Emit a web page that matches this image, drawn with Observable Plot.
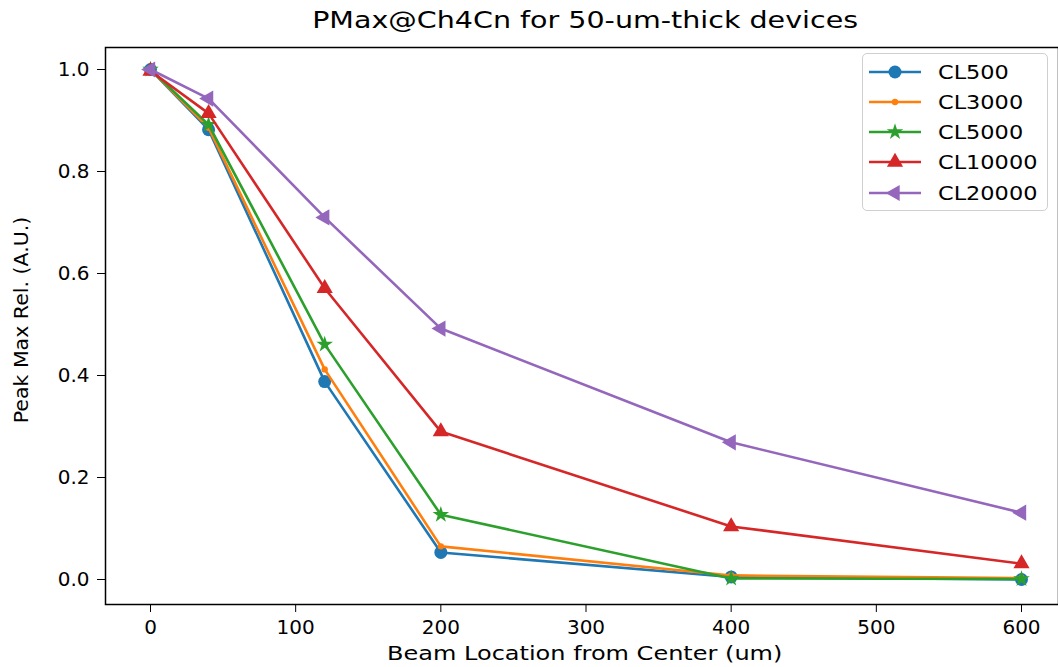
<!DOCTYPE html>
<html>
<head>
<meta charset="utf-8">
<script src="https://cdn.jsdelivr.net/npm/d3@7"></script>
<script src="https://cdn.jsdelivr.net/npm/@observablehq/plot@0.6"></script>
<style>
  html, body { margin: 0; padding: 0; background: #fff; }
  #wrap { position: relative; width: 1058px; height: 667px; font-family: "DejaVu Sans", sans-serif; color: #000; overflow: hidden; }
  #title { position: absolute; left: 0; width: 1170px; top: 7px; text-align: center; font-size: 23px; }
  #title span, #xlabel span { display: inline-block; transform-origin: center; }
  #title span { transform: scaleX(1.24); }
  #xlabel { position: absolute; left: 0; width: 1170px; top: 641px; text-align: center; font-size: 20px; }
  #xlabel span { transform: scaleX(1.2); }
  #ylabel { position: absolute; left: 21px; top: 320px; font-size: 19px; transform: translate(-50%, -50%) rotate(-90deg) scaleX(1.08); white-space: nowrap; }
  #legend { position: absolute; left: 862px; top: 53px; width: 186px; height: 158px; border: 1px solid #cfcfcf; border-radius: 5px; background: rgba(255,255,255,0.8); box-sizing: border-box; }
  .item { position: absolute; left: 0; height: 30px; width: 186px; }
  .item svg { position: absolute; left: 5px; top: 0; }
  .item span { position: absolute; left: 75px; top: 3px; font-size: 20px; transform-origin: left center; transform: scaleX(1.12); }
</style>
</head>
<body>
<div id="wrap">
  <div id="chart"></div>
  <div id="title"><span>PMax@Ch4Cn for 50-um-thick devices</span></div>
  <div id="xlabel"><span>Beam Location from Center (um)</span></div>
  <div id="ylabel">Peak Max Rel. (A.U.)</div>
  <div id="legend"></div>
</div>
<script>
const xs = [0, 40, 120, 200, 400, 600];
const series = ["CL500", "CL3000", "CL5000", "CL10000", "CL20000"];
const cl500   = [1.000, 0.882, 0.388, 0.053, 0.005, 0.000];
const cl3000  = [1.000, 0.886, 0.412, 0.065, 0.008, 0.003];
const cl5000  = [1.000, 0.892, 0.461, 0.127, 0.002, 0.001];
const cl10000 = [0.997, 0.914, 0.571, 0.290, 0.104, 0.031];
const cl20000 = [1.000, 0.943, 0.710, 0.492, 0.269, 0.131];
const colors  = ["#1f77b4", "#ff7f0e", "#2ca02c", "#d62728", "#9467bd"];
const symbols = ["circle", "circle", "star", "triangle", "triangle"];
const radii   = [6.5, 3.2, 5.2, 6, 6];
const rotations = [0, 0, 0, 0, -90];
const xTicks = [0, 100, 200, 300, 400, 500, 600];
const yTicks = [0, 0.2, 0.4, 0.6, 0.8, 1.0];

const values = [cl500, cl3000, cl5000, cl10000, cl20000];
const rows = [];
series.forEach((s, i) => xs.forEach((x, j) => rows.push({series: s, x, y: values[i][j], idx: i})));

const marks = [];
series.forEach((s, i) => {
  const d = rows.filter(r => r.series === s);
  marks.push(Plot.line(d, {x: "x", y: "y", stroke: colors[i], strokeWidth: 2.6}));
  marks.push(Plot.dot(d, {x: "x", y: "y", fill: colors[i], stroke: "none", symbol: () => symbols[i], r: radii[i], rotate: rotations[i]}));
});

const chart = Plot.plot({
  width: 1058,
  height: 667,
  marginLeft: 105,
  marginRight: 0,
  marginTop: 47,
  marginBottom: 63,
  style: {fontFamily: "DejaVu Sans", color: "#000", background: "white", overflow: "visible"},
  x: {domain: [0, 600], range: [150, 1021]},
  y: {domain: [0, 1], range: [579, 69]},
  symbol: {type: "identity"},
  marks: [
    Plot.axisX({ticks: xTicks, tickSize: 8, tickPadding: 7, fontSize: 20, label: null, tickFormat: d3.format("d")}),
    Plot.axisY({ticks: yTicks, tickSize: 8, tickPadding: 8, fontSize: 20, label: null, tickFormat: d3.format(".1f")}),
    ...marks,
    Plot.frame({stroke: "#000", strokeWidth: 1.5})
  ]
});
document.getElementById("chart").appendChild(chart);

const legend = document.getElementById("legend");
const tops = [3, 33, 63, 93, 124];
series.forEach((s, i) => {
  const item = document.createElement("div");
  item.className = "item";
  item.style.top = tops[i] + "px";
  const symType = {circle: d3.symbolCircle, star: d3.symbolStar, triangle: d3.symbolTriangle}[symbols[i]];
  const path = d3.symbol(symType, Math.PI * radii[i] * radii[i])();
  item.innerHTML = `<svg width="60" height="30"><line x1="1" x2="53" y1="15" y2="15" stroke="${colors[i]}" stroke-width="2.6"/><path d="${path}" fill="${colors[i]}" transform="translate(27,15) rotate(${rotations[i]})"/></svg><span>${s}</span>`;
  legend.appendChild(item);
});
</script>
</body>
</html>
